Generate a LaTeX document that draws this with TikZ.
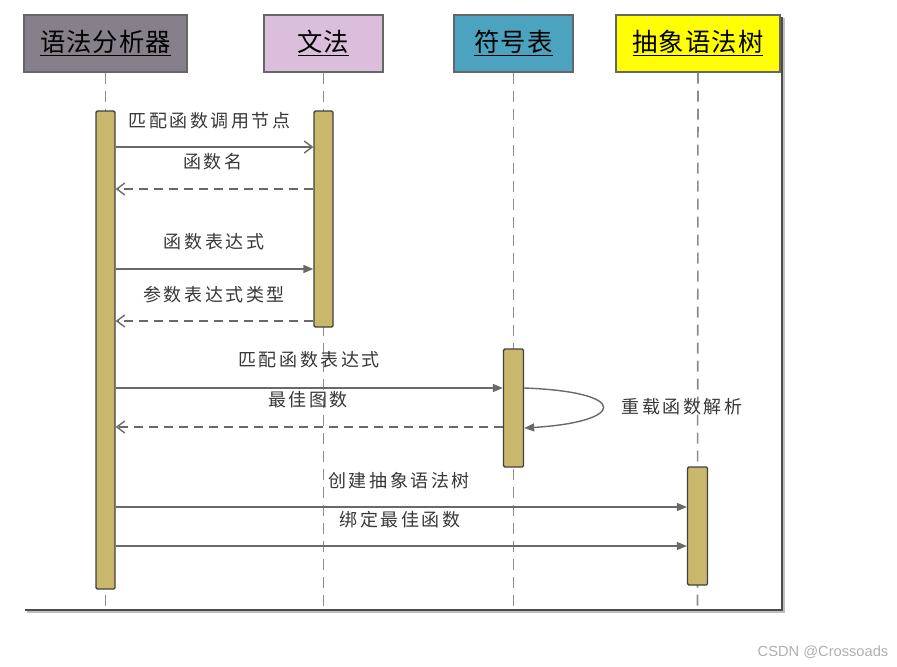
\documentclass[tikz,border=0pt]{standalone}
\usepackage{fontspec}
\setmainfont{Noto Sans CJK SC}
\newfontfamily\hdfont[LetterSpace=4]{Noto Sans CJK SC}
\newfontfamily\lblfont[LetterSpace=14]{Noto Sans CJK SC}
\newfontfamily\wmfont{Liberation Sans}
\usetikzlibrary{arrows.meta}
\newlength\px
\setlength\px{0.75pt}
\definecolor{hdA}{RGB}{133,128,138}
\definecolor{hdB}{RGB}{218,190,220}
\definecolor{hdC}{RGB}{75,163,191}
\definecolor{hdD}{RGB}{255,255,0}
\definecolor{barfill}{RGB}{201,183,108}
\definecolor{msgline}{RGB}{105,105,105}
\definecolor{lifegray}{RGB}{140,140,140}
\definecolor{txtgray}{RGB}{55,55,55}
\definecolor{wmgray}{RGB}{175,175,175}
\tikzset{
  header/.style={draw=black!60, line width=1.2\px, minimum height=57\px, inner sep=0pt, font=\hdfont\fontsize{19pt}{22pt}\selectfont},
  actbar/.style={draw=black!75, fill=barfill, line width=1.3\px, minimum width=19\px, inner sep=0pt, rounded corners=1pt},
  lifeline/.style={draw=lifegray, line width=1.6\px, dash pattern=on 11\px off 7\px},
  msg/.style={draw=msgline, line width=1.4\px},
  openhead/.style={-{Straight Barb[length=6pt,width=9pt]}},
  fillhead/.style={-{Triangle[length=7.5pt,width=6pt]}},
  retmsg/.style={msg, dash pattern=on 9\px off 6\px, openhead},
  lbl/.style={text=txtgray, inner sep=0pt, font=\lblfont\fontsize{13.5pt}{15pt}\selectfont},
  frameline/.style={draw=black!70, line width=2.6\px}
}
\begin{document}
\begin{tikzpicture}[x=0.75pt,y=-0.75pt]
\useasboundingbox (0,0) rectangle (897,667);
% frame
\coordinate (fBL) at (25,610);
\coordinate (fBR) at (782,610);
\coordinate (fTR) at (782,17);
\draw[draw=black!25, line width=2\px] ([xshift=1.5\px,yshift=-1.5\px]fBL) -- ([xshift=1.5\px,yshift=-1.5\px]fBR) -- ([xshift=1.5\px,yshift=-1.5\px]fTR);
\draw[frameline] (fBL) -- (fBR) -- (fTR);
% headers
\node[header, fill=hdA, minimum width=163\px] (hA) at (105.5,43.5) {\underline{语法分析器}};
\node[header, fill=hdB, minimum width=119\px] (hB) at (323.5,43.5) {\underline{文法}};
\node[header, fill=hdC, minimum width=119\px] (hC) at (513.5,43.5) {\underline{符号表}};
\node[header, fill=hdD, minimum width=164\px] (hD) at (698,43.5) {\underline{抽象语法树}};
% lifeline ends
\coordinate (eA) at (105.5,609);
\coordinate (eB) at (323.5,609);
\coordinate (eC) at (513.5,609);
\coordinate (eD) at (697.5,609);
\draw[lifeline] (hA.south) -- (eA);
\draw[lifeline] (hB.south) -- (eB);
\draw[lifeline] (hC.south) -- (eC);
\draw[lifeline] (hD.south) -- (eD);
% activation bars
\node[actbar, minimum height=478\px] (aA) at (105.5,350) {};
\node[actbar, minimum height=216\px] (aB) at (323.5,219) {};
\node[actbar, minimum height=118\px, minimum width=20\px] (aC) at (513.5,408) {};
\node[actbar, minimum height=118\px, minimum width=20\px] (aD) at (697.5,526) {};
% messages
\draw[msg, openhead] (aA.east |- 0,147) -- (aB.west |- 0,147);
\node[lbl] (l1) at (209.5,121) {匹配函数调用节点};
\draw[retmsg] (aB.west |- 0,189) -- (aA.east |- 0,189);
\node[lbl] (l2) at (213,162) {函数名};
\draw[msg, fillhead] (aA.east |- 0,269) -- (aB.west |- 0,269);
\node[lbl] (l3) at (214,242) {函数表达式};
\draw[retmsg] (aB.west |- 0,321) -- (aA.east |- 0,321);
\node[lbl] (l4) at (214,295) {参数表达式类型};
\draw[msg, fillhead] (aA.east |- 0,388) -- (aC.west |- 0,388);
\node[lbl] (l5) at (309,360) {匹配函数表达式};
\draw[msg, fillhead] (aC.east |- 0,388) .. controls (632,392) and (625,422) .. (aC.east |- 0,428);
\node[lbl] (l6) at (682,407) {重载函数解析};
\draw[retmsg] (aC.west |- 0,427) -- (aA.east |- 0,427);
\node[lbl] (l7) at (308,400) {最佳图数};
\draw[msg, fillhead] (aA.east |- 0,507) -- (aD.west |- 0,507);
\node[lbl] (l8) at (399,481) {创建抽象语法树};
\draw[msg, fillhead] (aA.east |- 0,546) -- (aD.west |- 0,546);
\node[lbl] (l9) at (400,520) {绑定最佳函数};
% watermark
\node[text=wmgray, inner sep=0pt, font=\wmfont\fontsize{11pt}{13pt}\selectfont] (wm) at (823,652) {CSDN @Crossoads};
\end{tikzpicture}
\end{document}
